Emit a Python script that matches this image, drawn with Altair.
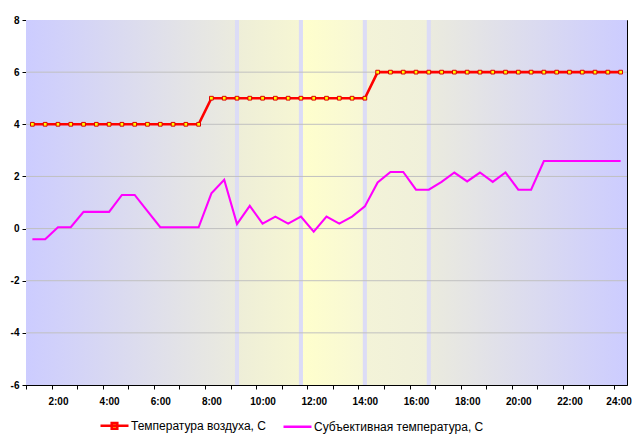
import altair as alt
import pandas as pd

# ---- data ----
hours = [1.0, 1.5, 2.0, 2.5, 3.0, 3.5, 4.0, 4.5, 5.0, 5.5, 6.0, 6.5, 7.0, 7.5,
         8.0, 8.5, 9.0, 9.5, 10.0, 10.5, 11.0, 11.5, 12.0, 12.5, 13.0, 13.5,
         14.0, 14.5, 15.0, 15.5, 16.0, 16.5, 17.0, 17.5, 18.0, 18.5, 19.0, 19.5,
         20.0, 20.5, 21.0, 21.5, 22.0, 22.5, 23.0, 23.5, 24.0]
air_temp = [4, 4, 4, 4, 4, 4, 4, 4, 4, 4, 4, 4, 4, 4,
            5, 5, 5, 5, 5, 5, 5, 5, 5, 5, 5, 5, 5,
            6, 6, 6, 6, 6, 6, 6, 6, 6, 6, 6, 6, 6, 6, 6, 6, 6, 6, 6, 6]
subj_temp = [-0.41, -0.41, 0.05, 0.05, 0.64, 0.64, 0.64, 1.29, 1.29, 0.67,
             0.05, 0.05, 0.05, 0.05, 1.35, 1.87, 0.17, 0.87, 0.19, 0.46,
             0.19, 0.46, -0.12, 0.46, 0.19, 0.46, 0.85, 1.77, 2.17, 2.17,
             1.49, 1.49, 1.79, 2.15, 1.81, 2.15, 1.79, 2.15, 1.49, 1.49,
             2.59, 2.59, 2.59, 2.59, 2.59, 2.59, 2.59]
series_names = ["Температура воздуха, С", "Субъективная температура, С"]
series_colors = ["#FF0000", "#FF00FF"]

# axis: ticks between category pairs, labels every 2 hours
tick_hours = [0.75, 1.75, 2.75, 3.75, 4.75, 5.75, 6.75, 7.75, 8.75, 9.75,
              10.75, 11.75, 12.75, 13.75, 14.75, 15.75, 16.75, 17.75, 18.75,
              19.75, 20.75, 21.75, 22.75, 23.75]
label_hours = [2, 4, 6, 8, 10, 12, 14, 16, 18, 20, 22, 24]
label_texts = ["2:00", "4:00", "6:00", "8:00", "10:00", "12:00", "14:00",
               "16:00", "18:00", "20:00", "22:00", "24:00"]
y_ticks = [-6, -4, -2, 0, 2, 4, 6, 8]
grid_vals = [-4, -2, 0, 2, 4, 6]

# background bands (hours) and their gradient colours
band_start = [0.75, 9.0, 11.5, 14.0, 16.5]
band_end = [9.0, 11.5, 14.0, 16.5, 24.25]
band_from = ["#CCCCFF", "#EEEED8", "#FFFFCC", "#F3F3D8", "#EBEBDE"]
band_to = ["#EBEBDE", "#F6F6D3", "#F7F7D6", "#F0F0DA", "#CCCCFF"]
strip_hours = [9.0, 11.5, 14.0, 16.5]

# ---- tables ----
rows = []
for h, v in zip(hours, air_temp):
    rows.append({"hour": h, "value": v, "series": series_names[0]})
for h, v in zip(hours, subj_temp):
    rows.append({"hour": h, "value": v, "series": series_names[1]})
df = pd.DataFrame(rows)

W, H = 601, 365
x_scale = alt.Scale(domain=[0.75, 24.25], nice=False, zero=False)
y_scale = alt.Scale(domain=[-6, 8], nice=False, zero=False)

label_expr = ("indexof(%s, datum.value) >= 0 ? %s[indexof(%s, datum.value)] : ''"
              % (str(label_hours), str(label_texts).replace('"', "'"), str(label_hours)))

x_axis = alt.Axis(
    values=tick_hours + label_hours, labelExpr=label_expr, title=None,
    grid=False, tickSize=4, tickColor="black", domainColor="black",
    tickOpacity={"condition": {"test": "datum.value % 2 == 0", "value": 0}, "value": 1},
    labelOffset={"condition": {"test": "datum.value == 24", "value": -2}, "value": 0},
    labelFont="Liberation Sans", labelFontSize=10, labelFontWeight="bold",
    labelColor="black", labelPadding=7, labelOverlap=False, labelFlush=False,
    labelBound=False,
)
y_axis = alt.Axis(
    values=y_ticks, title=None, grid=False, tickSize=4, tickColor="black",
    domainColor="black", labelFont="Liberation Sans", labelFontSize=10,
    labelFontWeight="bold", labelColor="black", labelPadding=3,
    labelExpr="datum.value < 0 ? '-' + abs(datum.value) : '' + datum.value",
)

def xf(field):
    return alt.X(field, scale=x_scale, axis=x_axis)

def yf(field):
    return alt.Y(field, scale=y_scale, axis=y_axis)

layers = []
for s, e, c1, c2 in zip(band_start, band_end, band_from, band_to):
    band = alt.Chart(pd.DataFrame({"s": [s], "e": [e]})).transform_calculate(
        lo="-6", hi="8"
    ).mark_rect(
        fill=alt.Gradient(gradient="linear",
                          stops=[alt.GradientStop(color=c1, offset=0),
                                 alt.GradientStop(color=c2, offset=1)],
                          x1=0, x2=1, y1=0, y2=0),
        strokeWidth=0,
    ).encode(x=xf("s:Q"), x2="e:Q", y=yf("lo:Q"), y2="hi:Q")
    layers.append(band)

strips = alt.Chart(pd.DataFrame({"h": strip_hours})).transform_calculate(
    a="datum.h - 0.08", b="datum.h + 0.08", lo="-6", hi="8"
).mark_rect(color="#DCDCF6", strokeWidth=0).encode(
    x=xf("a:Q"), x2="b:Q", y=yf("lo:Q"), y2="hi:Q",
)
layers.append(strips)

grid = alt.Chart(pd.DataFrame({"g": grid_vals})).mark_rule(
    color="#C0C0C0", strokeWidth=1
).encode(y=yf("g:Q"))
layers.append(grid)

line_widths = [2.6, 2.1]
for name, col, lw in zip(series_names, series_colors, line_widths):
    ln = alt.Chart(df).transform_filter(alt.datum.series == name).mark_line(
        color=col, strokeWidth=lw, interpolate="linear"
    ).encode(x=xf("hour:Q"), y=yf("value:Q"))
    layers.append(ln)

points = alt.Chart(df).transform_filter(
    alt.datum.series == series_names[0]
).mark_point(shape="square", filled=True, fill="#FFFF00", stroke="#DD0000",
             strokeWidth=1, size=14, opacity=1).encode(x=xf("hour:Q"), y=yf("value:Q"))
layers.append(points)

leg = alt.Legend(
    title=None, orient="none", legendX=73, legendY=390, direction="horizontal",
    labelFont="Liberation Sans", labelFontSize=12, labelColor="black",
    labelLimit=400, symbolSize=784, symbolStrokeWidth=2.5,
    symbolFillColor="#FFFF00", symbolStrokeColor="#FF0000",
    columnPadding=12, labelOffset=1, padding=0, symbolOpacity=1,
)
legend_layer = alt.Chart(df).transform_filter("false").mark_point(
    filled=True, strokeWidth=2.5, opacity=1
).encode(
    x=xf("hour:Q"), y=yf("value:Q"),
    stroke=alt.Stroke("series:N",
                      scale=alt.Scale(domain=series_names, range=series_colors),
                      legend=leg),
    fill=alt.Fill("series:N",
                  scale=alt.Scale(domain=series_names, range=["#FFFF00", "#FFFF00"]),
                  legend=leg),
    shape=alt.Shape("series:N",
                    scale=alt.Scale(domain=series_names,
                                    range=["M-1,0H1M-0.2,-0.2H0.2V0.2H-0.2Z",
                                           "M-1,0H1"]),
                    legend=leg),
)
layers.append(legend_layer)

chart = alt.layer(*layers).properties(
    width=W, height=H,
    autosize=alt.AutoSizeParams(type="none"),
    padding={"left": 18, "top": 12, "right": 5, "bottom": 51},
    background="white",
).configure_view(stroke="black", strokeWidth=1)

chart.save("out.html", embed_options={"renderer": "svg", "actions": False})
